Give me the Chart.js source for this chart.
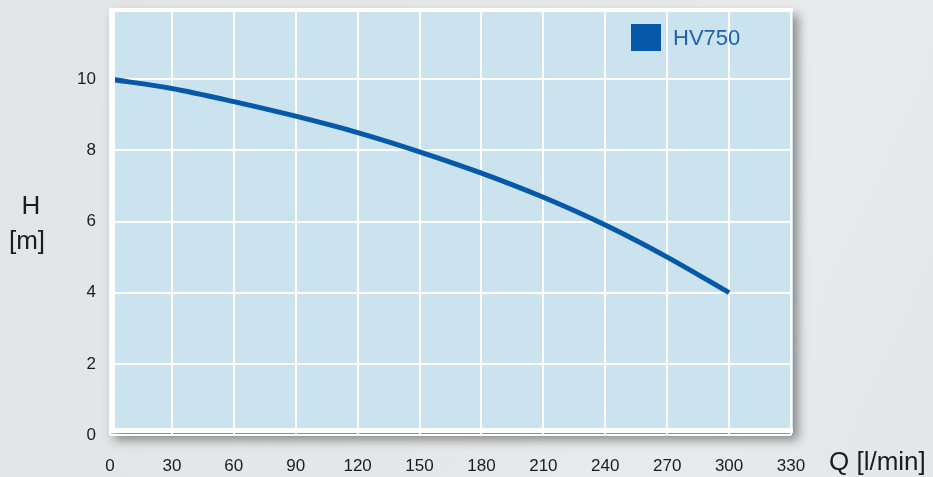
<!DOCTYPE html>
<html>
<head>
<meta charset="utf-8">
<script src="https://cdn.jsdelivr.net/npm/chart.js@4.4.0/dist/chart.umd.min.js"></script>
<style>
  html, body { margin: 0; padding: 0; }
  body {
    width: 933px; height: 477px; overflow: hidden;
    background: linear-gradient(115deg, #e3e4e6 0%, #e6e7e9 55%, #e9eaec 75%, #e5e6e8 100%);
  }
  canvas { display: block; }
</style>
</head>
<body>
<canvas id="pumpChart" width="933" height="477"></canvas>
<script>
// pump curve HV750
const seriesLabel = 'HV750';
const flowValues = [0, 30, 60, 90, 120, 150, 180, 210, 240, 270, 300]; // Q [l/min]
const headValues = [10, 9.74, 9.37, 8.96, 8.5, 7.96, 7.36, 6.68, 5.9, 5.0, 4.0]; // H [m]
const xTicks = [0, 30, 60, 90, 120, 150, 180, 210, 240, 270, 300, 330];
const yTicks = [0, 2, 4, 6, 8, 10];

const lineBlue = '#0659a8';
const plotBlue = '#cbe2ef';
const textDark = '#1c1c1c';

// white frame with shadow + light blue plot background
const framePlugin = {
  id: 'frame',
  beforeDraw(chart) {
    const { ctx, chartArea: a } = chart;
    ctx.save();
    ctx.shadowColor = 'rgba(0,0,0,0.42)';
    ctx.shadowBlur = 10;
    ctx.shadowOffsetX = 5;
    ctx.shadowOffsetY = 7;
    ctx.fillStyle = '#ffffff';
    ctx.fillRect(a.left - 1, a.top, a.right - a.left + 3, a.bottom - a.top - 2);
    ctx.restore();
    ctx.fillStyle = plotBlue;
    ctx.fillRect(a.left + 5, a.top + 4, a.right - a.left - 3, a.bottom - a.top - 11);
  },
  afterDraw(chart) {
    const { ctx, chartArea: a } = chart;
    ctx.save();
    // axis titles
    ctx.fillStyle = textDark;
    ctx.font = '26px "Liberation Sans", Arial, sans-serif';
    ctx.textAlign = 'center';
    ctx.textBaseline = 'middle';
    ctx.fillText('H', 31, 207);
    ctx.fillText('[m]', 27, 242);
    ctx.textAlign = 'left';
    ctx.fillText('Q [l/min]', a.right + 38, 463);
    // legend inside the plot
    ctx.fillStyle = lineBlue;
    ctx.fillRect(a.right - 160, a.top + 16, 30, 27);
    ctx.fillStyle = '#1d62aa';
    ctx.font = '22px "Liberation Sans", Arial, sans-serif';
    ctx.textBaseline = 'middle';
    ctx.fillText(chart.data.datasets[0].label, a.right - 118, a.top + 31);
    ctx.restore();
  }
};

new Chart(document.getElementById('pumpChart').getContext('2d'), {
  type: 'line',
  data: {
    datasets: [{
      label: seriesLabel,
      data: flowValues.map((q, i) => ({ x: q, y: headValues[i] })),
      borderColor: lineBlue,
      borderWidth: 5,
      pointRadius: 0,
      fill: false,
      cubicInterpolationMode: 'monotone',
      clip: { left: -5, top: 0, right: 0, bottom: 0 }
    }]
  },
  options: {
    responsive: false,
    animation: false,
    layout: { padding: { top: 8, right: 142, left: 0, bottom: 0 } },
    plugins: { legend: { display: false }, tooltip: { enabled: false } },
    scales: {
      x: {
        type: 'linear',
        min: 0,
        max: 330,
        afterBuildTicks: s => { s.ticks = xTicks.map(v => ({ value: v })); },
        afterFit: s => { s.height = 42; s.paddingLeft = 0; s.paddingRight = 0; },
        border: { display: false },
        grid: { color: '#ffffff', lineWidth: 2, drawTicks: false },
        ticks: {
          color: textDark,
          padding: 21,
          maxRotation: 0,
          autoSkip: false,
          font: { family: '"Liberation Sans", Arial, sans-serif', size: 17 }
        }
      },
      y: {
        min: 0,
        max: 12,
        afterBuildTicks: s => { s.ticks = yTicks.map(v => ({ value: v })); },
        afterFit: s => { s.width = 110; s.paddingTop = 0; s.paddingBottom = 0; },
        border: { display: false },
        grid: { color: '#ffffff', lineWidth: 2, drawTicks: false },
        ticks: {
          color: textDark,
          padding: 14,
          autoSkip: false,
          font: { family: '"Liberation Sans", Arial, sans-serif', size: 17 }
        }
      }
    }
  },
  plugins: [framePlugin]
});
</script>
</body>
</html>
